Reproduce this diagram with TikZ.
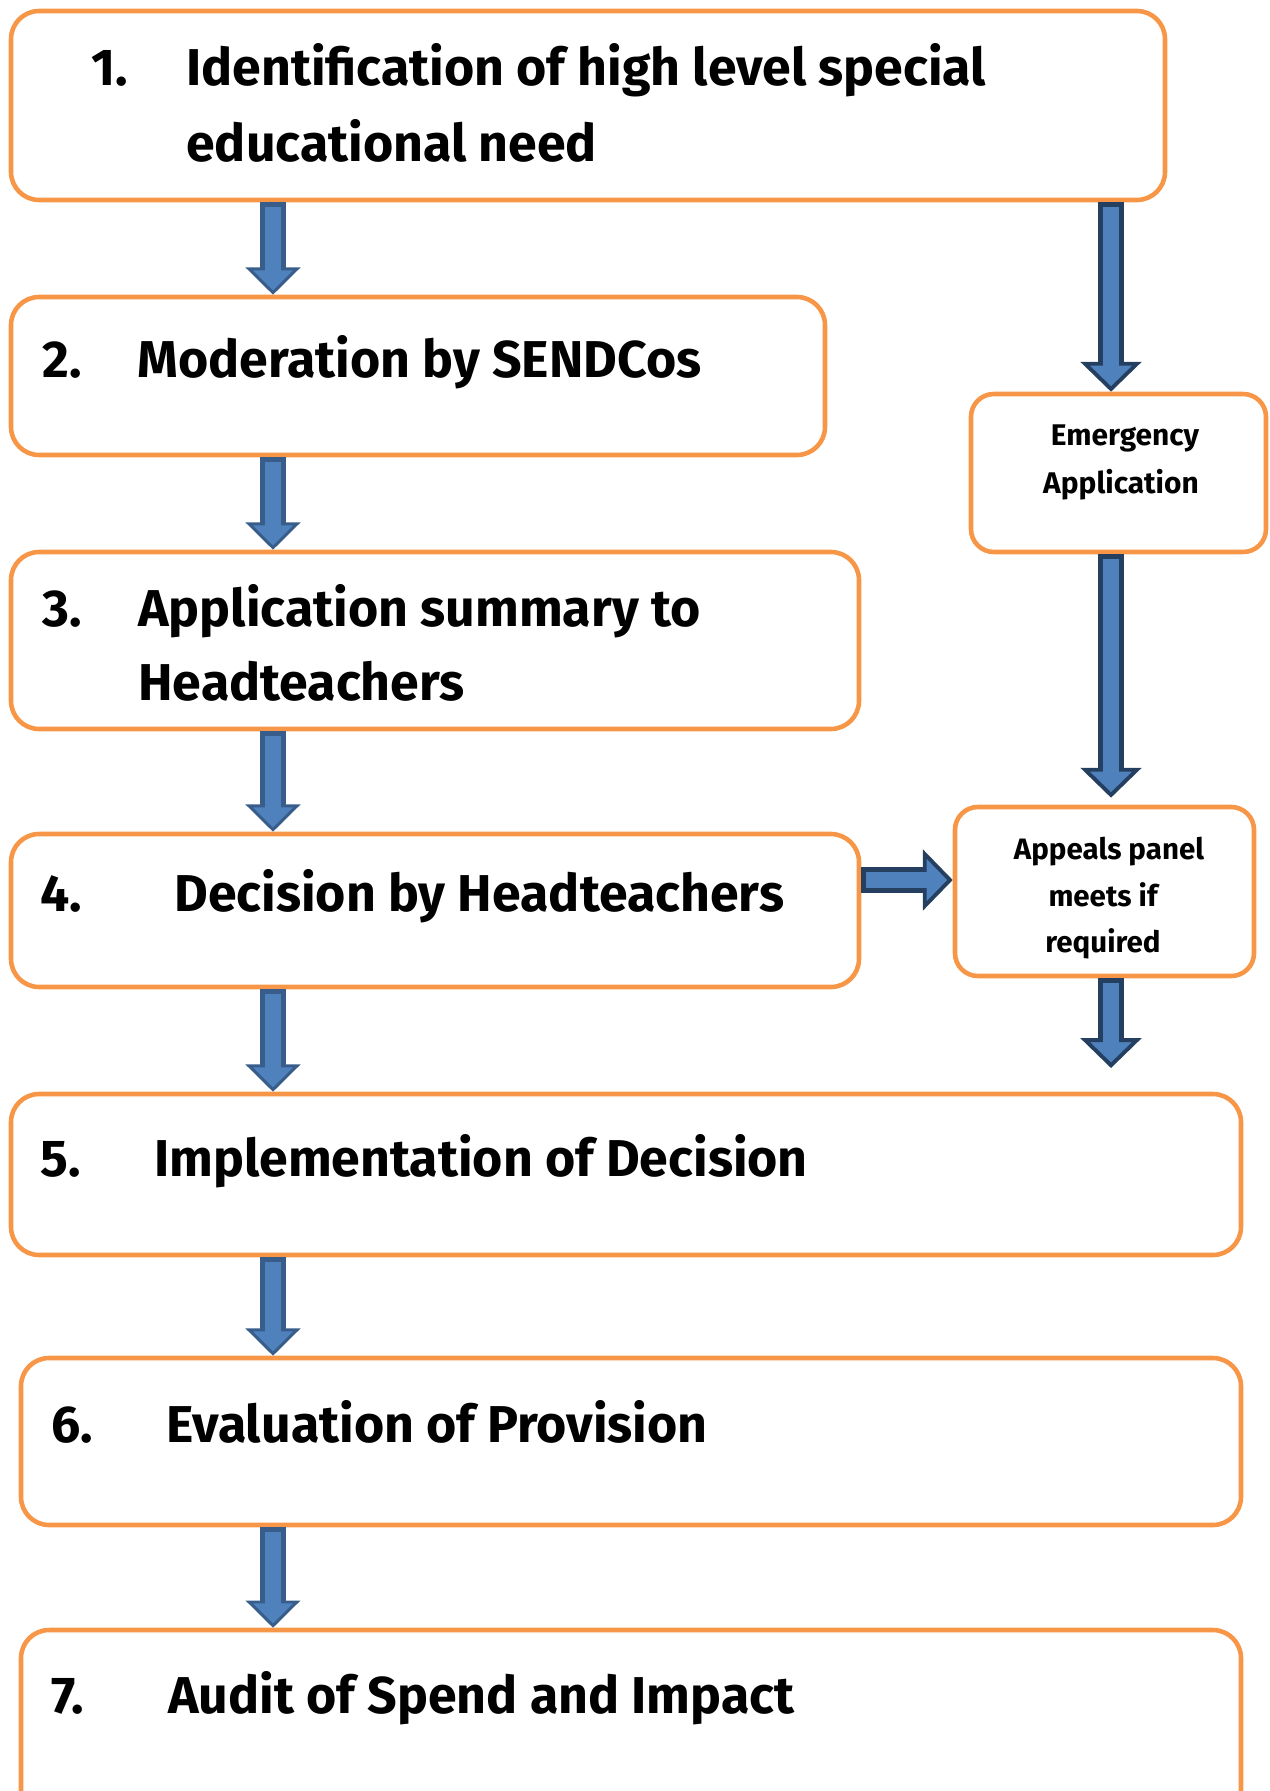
\documentclass[tikz,border=0pt]{standalone}
\usepackage{fontspec}
\setmainfont{Fira Sans}
\usetikzlibrary{arrows.meta,fit}

\definecolor{boxorange}{HTML}{F79646}
\definecolor{arrowblue}{HTML}{4F81BD}
\definecolor{arrowedge}{HTML}{385D8A}
\definecolor{arrowdark}{HTML}{243F60}

\newcommand{\stepfont}{\fontsize{29.5}{35}\selectfont\bfseries}
\newcommand{\sidefont}{\fontsize{17}{20}\selectfont\bfseries}
\newcommand{\panelfont}{\fontsize{16.8}{20}\selectfont\bfseries}

\begin{document}
\begin{tikzpicture}[x=0.02cm, y=-0.02cm]
    \tikzstyle{stage}=[draw=boxorange, line width=2.6pt, rounded corners=16pt, fill=white, inner sep=0pt]
    \tikzstyle{side stage}=[stage, rounded corners=13pt]
    \tikzstyle{step text}=[anchor=base west, inner sep=0pt, font=\stepfont]
    \tikzstyle{side text}=[anchor=base, inner sep=0pt, font=\sidefont]
    \tikzstyle{panel text}=[anchor=base, inner sep=0pt, font=\panelfont]
    \tikzstyle{flow arrow}=[draw=arrowedge, line width=15pt,
        -{Triangle[length=15.5pt, width=31pt, line width=1.7pt, fill=arrowblue]},
        postaction={draw=arrowblue, line width=9.5pt, shorten <=2.8pt, shorten >=12.5pt, -}]
    \tikzstyle{side arrow}=[draw=arrowdark, line width=15pt,
        -{Triangle[length=17pt, width=34.5pt, line width=2.2pt, fill=arrowblue]},
        postaction={draw=arrowblue, line width=9pt, shorten <=2.8pt, shorten >=13.5pt, -}]

    \useasboundingbox (0,0) rectangle (1270,1791);

    % the main stages
    \node[stage, fit={(11,11) (1165,200)}] (box1) {};
    \node[stage, fit={(11,297) (825,455)}] (box2) {};
    \node[stage, fit={(11,552) (859,729)}] (box3) {};
    \node[stage, fit={(11,834) (859,987)}] (box4) {};
    \node[stage, fit={(11,1094) (1241,1255)}] (box5) {};
    \node[stage, fit={(21,1358) (1241,1525)}] (box6) {};
    \node[stage, fit={(21,1630) (1241,1840)}] (box7) {};

    % the side route
    \node[side stage, fit={(971,394) (1266,552)}] (emergency) {};
    \node[side stage, fit={(955,807) (1254,976)}] (appeals) {};

    % texts of the stages
    \node[step text] (num1) at (91,86) {1.};
    \node[step text] (txt1a) at (186,86) {Identification of high level special};
    \node[step text] (txt1b) at (186,162) {educational need};
    \node[step text] (num2) at (42,377) {2.};
    \node[step text] (txt2) at (137,377) {Moderation by SENDCos};
    \node[step text] (num3) at (42,626) {3.};
    \node[step text] (txt3a) at (138,626) {Application summary to};
    \node[step text] (txt3b) at (138,700) {Headteachers};
    \node[step text] (num4) at (40,911) {4.};
    \node[step text] (txt4) at (174,911) {Decision by Headteachers};
    \node[step text] (num5) at (40,1176) {5.};
    \node[step text] (txt5) at (154,1176) {Implementation of Decision};
    \node[step text] (num6) at (51,1442) {6.};
    \node[step text] (txt6) at (166,1442) {Evaluation of Provision};
    \node[step text] (num7) at (51,1713) {7.};
    \node[step text] (txt7) at (168,1713) {Audit of Spend and Impact};

    \node[side text] (em1) at (1125,445) {Emergency};
    \node[side text] (em2) at (1121,493) {Application};
    \node[panel text] (ap1) at (1109,859) {Appeals panel};
    \node[panel text] (ap2) at (1103,906) {meets if};
    \node[panel text] (ap3) at (1103,952) {required};

    % columns and rows of the arrows
    \coordinate (colL) at (273,0);
    \coordinate (colR) at (1111,0);
    \coordinate (rowD) at (0,880);
    \coordinate (appealsEnd) at (1111,1068);

    \foreach \src / \dst in {box1/box2, box2/box3, box3/box4, box4/box5, box5/box6, box6/box7}
        \draw[flow arrow] (\src.south -| colL) -- (\dst.north -| colL);

    \draw[side arrow] (box1.south -| colR) -- (emergency.north -| colR);
    \draw[side arrow] (emergency.south -| colR) -- ([yshift=4pt]appeals.north -| colR);
    \draw[side arrow] (appeals.south -| colR) -- (appealsEnd);
    \draw[side arrow] (box4.east |- rowD) -- (appeals.west |- rowD);
\end{tikzpicture}
\end{document}
